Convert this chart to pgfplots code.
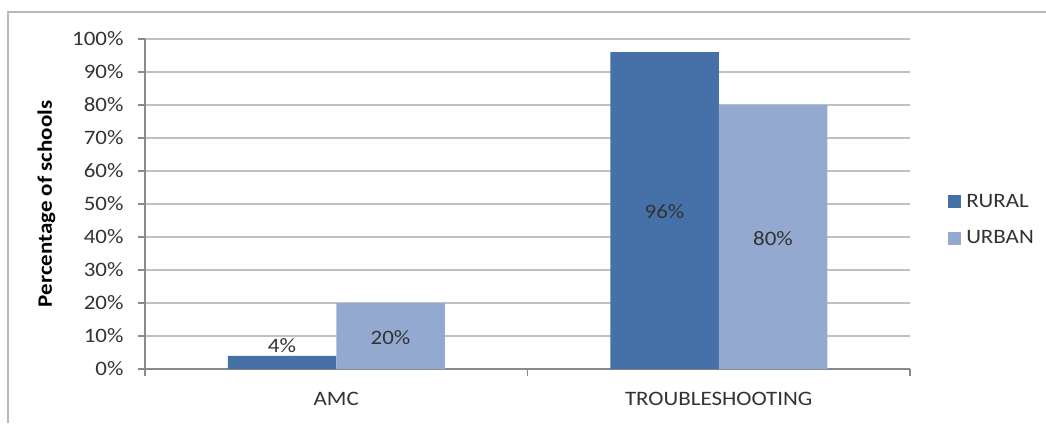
\documentclass[border=0pt]{standalone}
\usepackage{pgfplots}
\pgfplotsset{compat=1.18}
\usepackage{fontspec}
\setmainfont{Carlito}[FakeStretch=1.12]
\definecolor{rural}{HTML}{4571A8}
\definecolor{urban}{HTML}{94A9D0}
\definecolor{gridc}{HTML}{C0C0C0}
\definecolor{axisgray}{HTML}{8A8A8A}
\definecolor{txt}{HTML}{333333}
\begin{document}
\begin{tikzpicture}[font=\fontsize{20.5}{24}\selectfont]
\useasboundingbox (-145pt,-54pt) rectangle (901pt,369pt);
\draw[gray!55, line width=1.5pt] (-137pt,-54pt) -- (-137pt,357pt) -- (901pt,357pt);
\begin{axis}[
  at={(0pt,0pt)}, anchor=south west,
  scale only axis, width=765pt, height=330pt,
  xmin=-0.5, xmax=1.5, ymin=0, ymax=100,
  axis x line*=bottom, axis y line*=left,
  axis line style={axisgray, line width=1.2pt},
  xtick={-0.5,0.5,1.5}, xticklabels={},
  extra x ticks={0,1}, extra x tick labels={AMC,TROUBLESHOOTING},
  extra x tick style={major tick length=0pt, grid=none},
  ytick={0,10,...,100},
  yticklabel={\pgfmathprintnumber{\tick}\%},
  /pgf/number format/assume math mode=true,
  tick align=outside, major tick length=7pt,
  tick style={axisgray, line width=1.2pt},
  ymajorgrids, grid style={gridc, line width=1.6pt},
  tick label style={text=txt},
  yticklabel style={xshift=-11pt},
  xticklabel style={yshift=-20pt},
  ylabel={\bfseries Percentage of schools},
  ylabel style={text=black, font=\fontsize{20.5}{24}\selectfont, yshift=10pt},
  legend style={at={(1.0458,0.452)}, anchor=west, draw=none, fill=none,
    row sep=18pt, text=txt, font=\fontsize{20.5}{24}\selectfont},
  legend cell align=left,
  legend image code/.code={\fill[#1] (0pt,-6.5pt) rectangle (13pt,6.5pt);},
]
\addplot[ybar, bar width=108.5pt, bar shift=-54.25pt, fill=rural, draw=none] coordinates {(0,4) (1,96)};
\addlegendentry{\hspace{3pt}RURAL}
\addplot[ybar, bar width=108.5pt, bar shift=54.25pt, fill=urban, draw=none] coordinates {(0,20) (1,80)};
\addlegendentry{\hspace{3pt}URBAN}
\addplot[forget plot, only marks, mark=none, nodes near coords, point meta=explicit symbolic,
  nodes near coords align=center, every node near coord/.append style={text=txt}]
  table[meta=label] {
x y label
-0.1418 7.1 4\%
0.1418 9.5 20\%
0.8582 47.7 96\%
1.1418 39.4 80\%
};
\end{axis}
\end{tikzpicture}
\end{document}
